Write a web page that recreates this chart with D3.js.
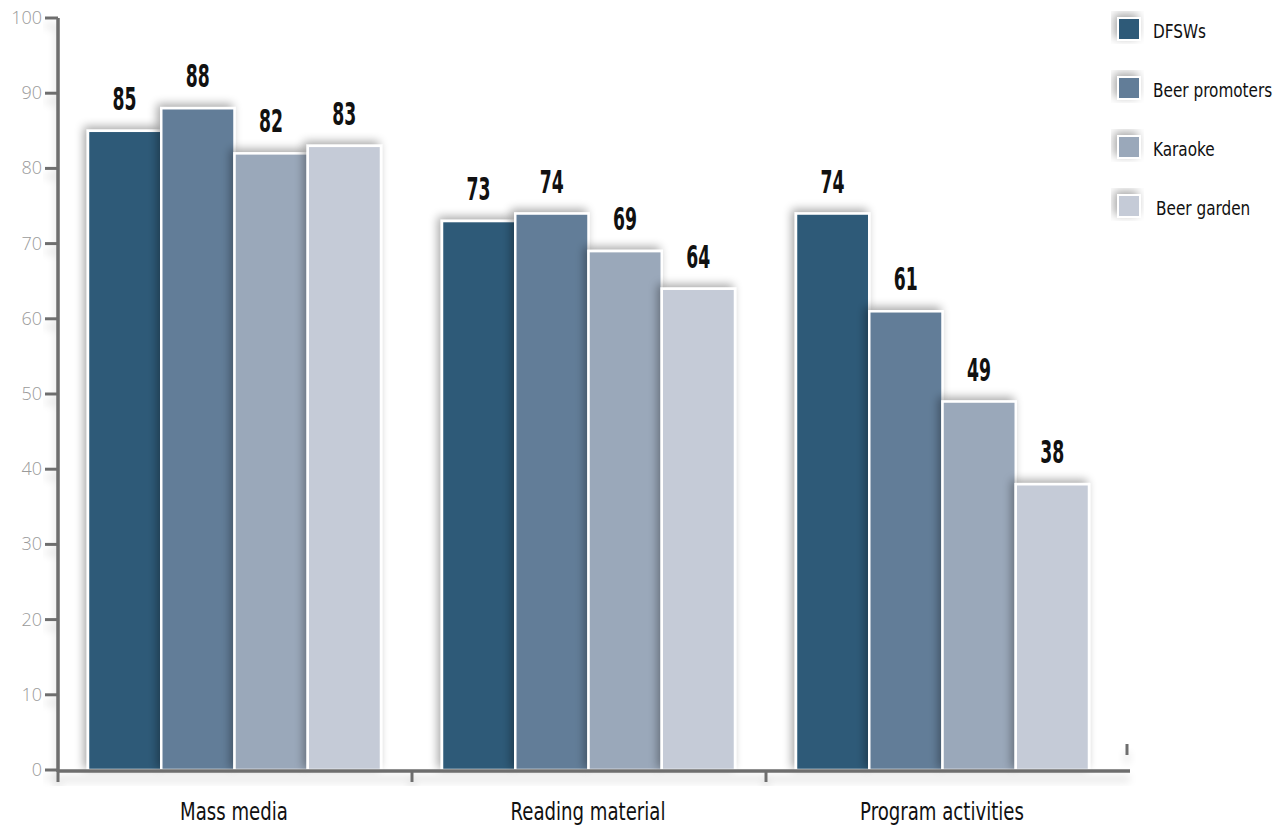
<!DOCTYPE html>
<html><head><meta charset="utf-8">
<script src="https://cdn.jsdelivr.net/npm/d3@7"></script>
<style>
body{margin:0;background:#fff;}
svg{display:block;}
</style></head>
<body>
<svg id="chart" width="1287" height="828"></svg>
<script>
const categories = ["Mass media", "Reading material", "Program activities"];
const seriesNames = ["DFSWs", "Beer promoters", "Karaoke", "Beer garden"];
const dfsws = [85, 73, 74];
const beerPromoters = [88, 74, 61];
const karaoke = [82, 69, 49];
const beerGarden = [83, 64, 38];
const yTicks = [0, 10, 20, 30, 40, 50, 60, 70, 80, 90, 100];
const colors = ["#2d5a78", "#627d98", "#9aa8ba", "#c5cbd7"];

(function(){
const seriesValues = [dfsws, beerPromoters, karaoke, beerGarden];
const svg = d3.select("#chart");

const defs = svg.append("defs");
const f = defs.append("filter").attr("id","shadow").attr("x","-30%").attr("y","-30%").attr("width","160%").attr("height","160%");
f.append("feGaussianBlur").attr("in","SourceAlpha").attr("stdDeviation",5).attr("result","b");
f.append("feOffset").attr("in","b").attr("dx",-3).attr("dy",-3).attr("result","o");
f.append("feComponentTransfer").attr("in","o").attr("result","o2").append("feFuncA").attr("type","linear").attr("slope",0.35);
const m = f.append("feMerge");
m.append("feMergeNode").attr("in","o2");
m.append("feMergeNode").attr("in","SourceGraphic");

const f2 = defs.append("filter").attr("id","axshadow").attr("x","-10%").attr("y","-10%").attr("width","120%").attr("height","120%");
f2.append("feGaussianBlur").attr("in","SourceAlpha").attr("stdDeviation",4).attr("result","b");
f2.append("feOffset").attr("in","b").attr("dx",0).attr("dy",8).attr("result","o");
f2.append("feComponentTransfer").attr("in","o").attr("result","o2").append("feFuncA").attr("type","linear").attr("slope",0.18);
const m2 = f2.append("feMerge");
m2.append("feMergeNode").attr("in","o2");
m2.append("feMergeNode").attr("in","SourceGraphic");

const mLeft = 58, mRight = 1120, mTop = 18, mBottom = 770;
const y = d3.scaleLinear().domain([0, 100]).range([mBottom, mTop]);
const x0 = d3.scaleBand().domain(categories).range([mLeft, mRight]).paddingInner(0).paddingOuter(0);
const x1 = d3.scaleBand().domain(seriesNames).range([30, x0.bandwidth() - 31]).padding(0);

const cond = "'DejaVu Sans Condensed','DejaVu Sans',sans-serif";

const groups = svg.append("g").selectAll("g").data(categories).join("g")
  .attr("transform", d => `translate(${x0(d)},0)`);
groups.each(function(cat, ci){
  const g = d3.select(this);
  seriesNames.forEach((s, si) => {
    const v = seriesValues[si][ci];
    g.append("rect")
      .attr("x", x1(s)).attr("y", y(v))
      .attr("width", x1.bandwidth()).attr("height", y(0) - y(v))
      .attr("fill", colors[si]).attr("stroke", "#fff").attr("stroke-width", 2.5)
      .attr("filter", "url(#shadow)");
  });
});
groups.each(function(cat, ci){
  const g = d3.select(this);
  seriesNames.forEach((s, si) => {
    const v = seriesValues[si][ci];
    g.append("text")
      .attr("transform", `translate(${x1(s) + x1.bandwidth()/2},${y(v) - 21}) scale(0.6,1)`)
      .attr("text-anchor","middle")
      .attr("font-family", cond).attr("font-weight","bold").attr("font-size", 32)
      .attr("fill","#111").text(v);
  });
});

const yAxis = svg.append("g").attr("filter","url(#axshadow)");
yAxis.append("line").attr("x1", mLeft).attr("x2", mLeft).attr("y1", y(100)).attr("y2", y(0) + 2)
  .attr("stroke", "#6e6e6e").attr("stroke-width", 3.5);
yAxis.selectAll("line.tk").data(yTicks).join("line").attr("class","tk")
  .attr("x1", 45).attr("x2", mLeft).attr("y1", d => y(d)).attr("y2", d => y(d))
  .attr("stroke", "#6e6e6e").attr("stroke-width", 3);
svg.append("g").selectAll("text").data(yTicks).join("text")
  .attr("x", 42).attr("y", d => y(d)).attr("dy","0.33em")
  .attr("text-anchor","end").attr("font-family","'Open Sans',sans-serif").attr("font-weight",300)
  .attr("font-size", 18).attr("fill","#9a9a9a").text(d => d);

const xAxis = svg.append("g").attr("filter","url(#axshadow)");
xAxis.append("line").attr("x1", mLeft).attr("x2", mRight + 10).attr("y1", mBottom + 1).attr("y2", mBottom + 1)
  .attr("stroke", "#6e6e6e").attr("stroke-width", 3.5);
const bounds = categories.map(c => x0(c));
xAxis.selectAll("line.tk").data(bounds).join("line").attr("class","tk")
  .attr("x1", d => d).attr("x2", d => d).attr("y1", mBottom + 1).attr("y2", mBottom + 12)
  .attr("stroke", "#6e6e6e").attr("stroke-width", 3);
xAxis.append("line").attr("x1", mRight + 7).attr("x2", mRight + 7).attr("y1", mBottom - 26).attr("y2", mBottom - 15)
  .attr("stroke", "#6e6e6e").attr("stroke-width", 3);
svg.append("g").selectAll("text").data(categories).join("text")
  .attr("transform", d => `translate(${x0(d) + x0.bandwidth()/2 - 1},820) scale(0.84,1)`)
  .attr("text-anchor","middle").attr("font-family", cond).attr("font-size", 24)
  .attr("fill","#111").text(d => d);

const lg = svg.append("g").selectAll("g").data(seriesNames).join("g")
  .attr("transform", (d,i) => `translate(1118,${18 + i*59})`);
lg.append("rect").attr("width", 22).attr("height", 22)
  .attr("fill", (d,i) => colors[i]).attr("stroke","#fff").attr("stroke-width",2)
  .attr("filter","url(#shadow)");
lg.append("text").attr("transform", (d,i) => `translate(${i === 3 ? 38 : 35},20) scale(0.85,1)`)
  .attr("font-family", cond).attr("font-size", 20).attr("fill","#111").text(d => d);
})();
</script>
</body></html>
